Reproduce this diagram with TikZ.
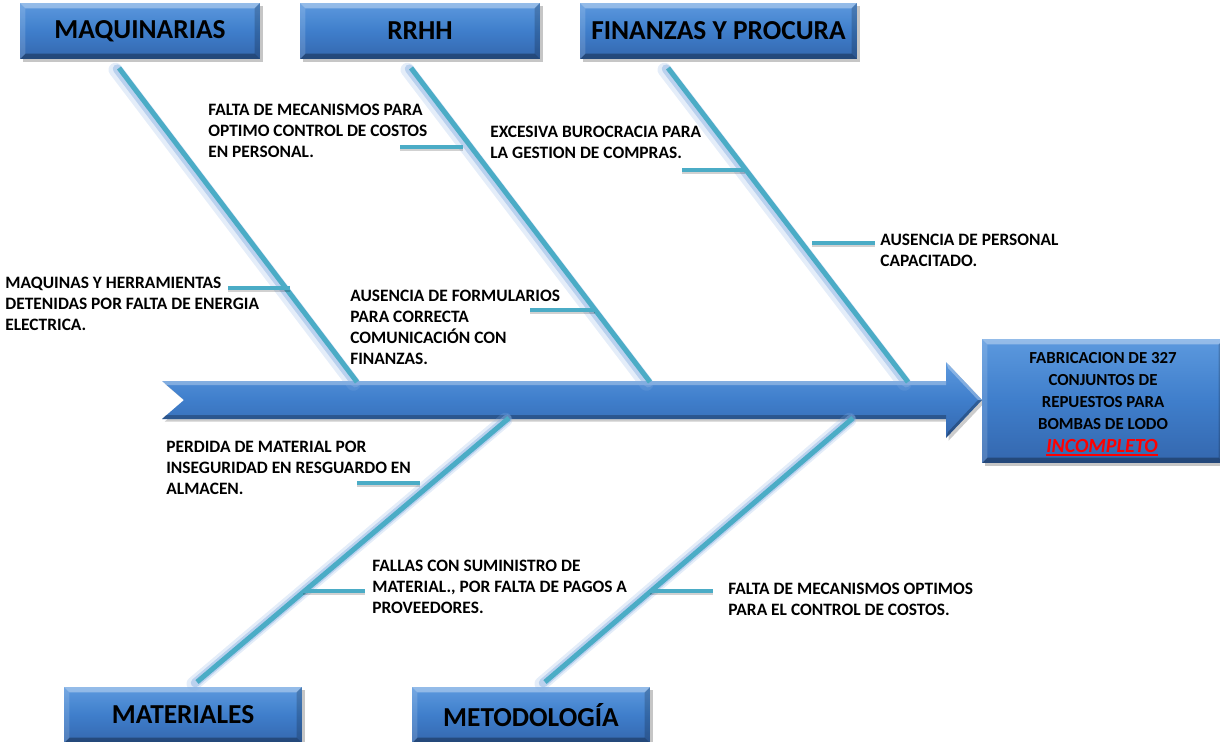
\documentclass[tikz,border=0pt]{standalone}
\usepackage{fontspec}
\setmainfont{Carlito}
\usetikzlibrary{calc,shadows}
\definecolor{boxtop}{HTML}{5C99DE}
\definecolor{boxmid}{HTML}{3F7ECB}
\definecolor{boxbot}{HTML}{3467AE}
\definecolor{bone}{HTML}{4BACC6}
\definecolor{glow}{HTML}{86AEE2}
\tikzset{
  bevel/.style={path picture={
    \fill[white,opacity=.35] (path picture bounding box.north west) -- (path picture bounding box.north east)
      -- ($(path picture bounding box.north east)+(-3pt,-3pt)$) -- ($(path picture bounding box.north west)+(3pt,-3pt)$) -- cycle;
    \fill[black,opacity=.30] (path picture bounding box.south west) -- (path picture bounding box.south east)
      -- ($(path picture bounding box.south east)+(-3pt,3pt)$) -- ($(path picture bounding box.south west)+(3pt,3pt)$) -- cycle;
    \fill[white,opacity=.15] (path picture bounding box.north west) -- (path picture bounding box.south west)
      -- ($(path picture bounding box.south west)+(3pt,3pt)$) -- ($(path picture bounding box.north west)+(3pt,-3pt)$) -- cycle;
    \fill[black,opacity=.18] (path picture bounding box.north east) -- (path picture bounding box.south east)
      -- ($(path picture bounding box.south east)+(-3pt,3pt)$) -- ($(path picture bounding box.north east)+(-3pt,-3pt)$) -- cycle;
  }},
  catbox/.style={bevel, top color=boxtop, bottom color=boxbot, middle color=boxmid,
    drop shadow={shadow xshift=1.5pt, shadow yshift=-1.5pt, opacity=.45},
    inner sep=0pt, minimum height=1.12cm, text=black,
    font=\fontsize{15.6}{17}\selectfont\bfseries},
  cause/.style={anchor=west, align=left, inner sep=0pt, text=black,
    font=\fontsize{9.9}{11.9}\selectfont\bfseries},
  bonehalo/.style={line width=14*0.02cm, glow, opacity=.22, line cap=round},
  bonehalo2/.style={line width=9*0.02cm, glow, opacity=.45, line cap=round},
  boneline/.style={line width=5*0.02cm, bone},
  twig/.style={line width=4.5*0.02cm, bone},
  twigshadow/.style={line width=4.5*0.02cm, black, opacity=.18},
}
\begin{document}
\begin{tikzpicture}[x=0.02cm,y=-0.02cm]
\useasboundingbox (0,0) rectangle (1220,741);

% spine arrow
\path[top color=boxtop, bottom color=boxbot, middle color=boxmid,
      drop shadow={shadow xshift=1.5pt, shadow yshift=-1.5pt, opacity=.4}]
  (162,381) -- (946,381) -- (946,362) -- (982,400) -- (946,438) -- (946,419)
  -- (162,419) -- (184,400) -- cycle;
\fill[white,opacity=.3] (162,381) -- (946,381) -- (946,385) -- (166,385) -- cycle;
\fill[black,opacity=.25] (162,419) -- (946,419) -- (946,415) -- (166,415) -- cycle;
\fill[white,opacity=.3] (946,362) -- (982,400) -- (978,400) -- (948,368) -- cycle;
\fill[black,opacity=.25] (946,438) -- (982,400) -- (978,400) -- (948,432) -- cycle;

% category boxes
\node[catbox, minimum width=4.8cm]  (maq) at (140,31)   {MAQUINARIAS};
\node[catbox, minimum width=4.8cm]  (rrhh) at (420,31)  {RRHH};
\node[catbox, minimum width=5.54cm] (fin) at (718.5,31) {FINANZAS Y PROCURA};
\node[catbox, minimum width=4.76cm] (mat) at (183,715)  {MATERIALES};
\node[catbox, minimum width=4.76cm] (met) at (531,715)  {METODOLOGÍA};

% effect box
\node[catbox, minimum width=4.84cm, minimum height=2.48cm] (head) at (1103,401) {};
\node[align=center, inner sep=0pt, text=black,
      font=\fontsize{9.6}{12.6}\selectfont\bfseries] (headtxt) at (1103,391)
  {FABRICACION DE 327\\CONJUNTOS DE\\REPUESTOS PARA\\BOMBAS DE LODO};
\node[inner sep=0pt, text=red, font=\fontsize{11.4}{12.6}\selectfont\bfseries\itshape]
  (inc) at (1102,446) {INCOMPLETO};
\draw[red, line width=1.1pt] ([yshift=-1.3pt]inc.south west) -- ([yshift=-1.3pt]inc.south east);

% bone end points
\coordinate (mq1) at (119,68);  \coordinate (mq2) at (357,382);
\coordinate (rh1) at (411,68);  \coordinate (rh2) at (650,382);
\coordinate (fi1) at (668,68);  \coordinate (fi2) at (908,382);
\coordinate (ma1) at (197,682); \coordinate (ma2) at (509,418);
\coordinate (me1) at (545,682); \coordinate (me2) at (853,418);

% main bones
\foreach \a/\b in {mq1/mq2, rh1/rh2, fi1/fi2, ma1/ma2, me1/me2} {
  \draw[bonehalo]  ([shift={(-2pt,-1pt)}]\a) -- ([shift={(-2pt,-1pt)}]\b);
  \draw[bonehalo2] ([shift={(-1pt,-.5pt)}]\a) -- ([shift={(-1pt,-.5pt)}]\b);
  \draw[boneline] (\a) -- (\b);
}

% twig end points
\coordinate (t1a) at (228,288); \coordinate (t1b) at (290,288);
\coordinate (t2a) at (400,147); \coordinate (t2b) at (463,147);
\coordinate (t3a) at (682,170); \coordinate (t3b) at (745,170);
\coordinate (t4a) at (812,243); \coordinate (t4b) at (875,243);
\coordinate (t5a) at (530,310); \coordinate (t5b) at (595,310);
\coordinate (t6a) at (357,483); \coordinate (t6b) at (420,483);
\coordinate (t7a) at (303,591); \coordinate (t7b) at (365,591);
\coordinate (t8a) at (650,591); \coordinate (t8b) at (713,591);

\foreach \n in {1,...,8} {
  \draw[twigshadow] ([shift={(0pt,-1.2pt)}]t\n a) -- ([shift={(0pt,-1.2pt)}]t\n b);
  \draw[twig] (t\n a) -- (t\n b);
}

% causes
\node[cause] (c1) at (5,304)   {MAQUINAS Y HERRAMIENTAS\\DETENIDAS POR FALTA DE ENERGIA\\ELECTRICA.};
\node[cause] (c2) at (208,131) {FALTA DE MECANISMOS PARA\\OPTIMO CONTROL DE COSTOS\\EN PERSONAL.};
\node[cause] (c3) at (490,142) {EXCESIVA BUROCRACIA PARA\\LA GESTION DE COMPRAS.};
\node[cause] (c4) at (880,250) {AUSENCIA DE PERSONAL\\CAPACITADO.};
\node[cause] (c5) at (350,327) {AUSENCIA DE FORMULARIOS\\PARA CORRECTA\\COMUNICACIÓN CON\\FINANZAS.};
\node[cause] (c6) at (166,468) {PERDIDA DE MATERIAL POR\\INSEGURIDAD EN RESGUARDO EN\\ALMACEN.};
\node[cause] (c7) at (372,587) {FALLAS CON SUMINISTRO DE\\MATERIAL., POR FALTA DE PAGOS A\\PROVEEDORES.};
\node[cause] (c8) at (728,599) {FALTA DE MECANISMOS OPTIMOS\\PARA EL CONTROL DE COSTOS.};
\end{tikzpicture}
\end{document}
